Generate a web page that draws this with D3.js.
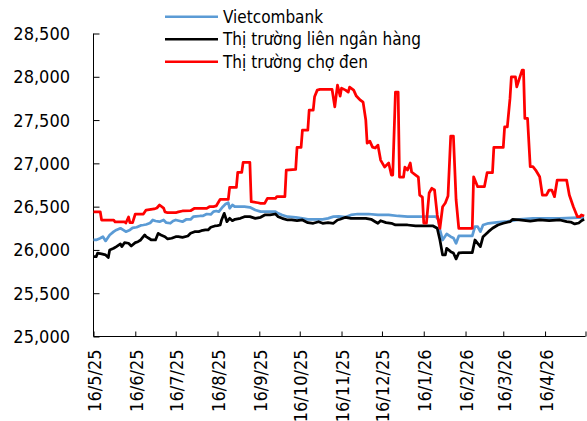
<!DOCTYPE html>
<html>
<head>
<meta charset="utf-8">
<script src="https://cdn.jsdelivr.net/npm/d3@7/dist/d3.min.js"></script>
<style>
  html, body { margin: 0; padding: 0; background: #fff; }
  svg { display: block; }
  text { font-family: "DejaVu Sans Condensed", "DejaVu Sans", sans-serif; font-stretch: condensed; fill: #000; }
</style>
</head>
<body>
<svg id="chart" width="587" height="421"></svg>
<script>
const seriesNames = ["Vietcombank", "Thị trường liên ngân hàng", "Thị trường chợ đen"];
const seriesColors = ["#5b9bd5", "#000000", "#ff0000"];

const vcbData = [
  ["2025-05-16",26115],["2025-05-18",26115],["2025-05-21",26135],["2025-05-23",26153],["2025-05-25",26104],
  ["2025-05-28",26173],["2025-05-31",26211],["2025-06-02",26231],["2025-06-05",26250],["2025-06-07",26231],
  ["2025-06-09",26211],["2025-06-12",26231],["2025-06-14",26254],["2025-06-17",26262],["2025-06-20",26283],
  ["2025-06-22",26288],["2025-06-24",26294],["2025-06-27",26311],["2025-06-29",26346],["2025-07-01",26334],
  ["2025-07-04",26326],["2025-07-07",26346],["2025-07-09",26315],["2025-07-12",26308],["2025-07-14",26334],
  ["2025-07-16",26346],["2025-07-19",26334],["2025-07-21",26326],["2025-07-24",26354],["2025-07-27",26352],
  ["2025-07-29",26384],["2025-07-31",26387],["2025-08-03",26392],["2025-08-05",26392],["2025-08-08",26415],
  ["2025-08-11",26410],["2025-08-13",26442],["2025-08-15",26450],["2025-08-17",26442],["2025-08-20",26499],
  ["2025-08-22",26530],["2025-08-24",26545],["2025-08-25",26481],["2025-08-27",26519],["2025-08-29",26499],
  ["2025-09-02",26499],["2025-09-05",26499],["2025-09-09",26492],["2025-09-13",26461],["2025-09-17",26442],
  ["2025-09-24",26442],["2025-09-28",26442],["2025-09-30",26423],["2025-10-03",26404],["2025-10-07",26384],
  ["2025-10-13",26377],["2025-10-18",26365],["2025-10-22",26354],["2025-10-27",26354],["2025-11-02",26354],
  ["2025-11-06",26365],["2025-11-10",26384],["2025-11-14",26387],["2025-11-19",26380],["2025-11-23",26404],
  ["2025-11-28",26415],["2025-12-06",26415],["2025-12-13",26404],["2025-12-21",26404],["2025-12-28",26392],
  ["2026-01-04",26384],["2026-01-12",26384],["2026-01-19",26384],["2026-01-25",26384],["2026-01-27",26346],
  ["2026-01-28",26231],["2026-01-30",26115],["2026-02-02",26184],["2026-02-05",26153],["2026-02-07",26138],
  ["2026-02-09",26077],["2026-02-11",26161],["2026-02-14",26161],["2026-02-21",26161],["2026-02-23",26269],
  ["2026-02-25",26269],["2026-02-27",26211],["2026-03-01",26288],["2026-03-05",26308],["2026-03-11",26318],
  ["2026-03-19",26330],["2026-03-23",26338],["2026-03-28",26354],["2026-04-07",26365],["2026-04-27",26365],
  ["2026-05-15",26375]
];

const interbankData = [
  ["2025-05-16",25922],["2025-05-18",25922],["2025-05-19",25962],["2025-05-22",25954],["2025-05-25",25942],
  ["2025-05-27",25913],["2025-05-28",26000],["2025-05-31",26019],["2025-06-02",26038],["2025-06-05",26069],
  ["2025-06-06",26038],["2025-06-08",26084],["2025-06-11",26077],["2025-06-13",26046],["2025-06-16",26084],
  ["2025-06-18",26095],["2025-06-20",26115],["2025-06-23",26173],["2025-06-24",26153],["2025-06-26",26135],
  ["2025-06-28",26115],["2025-07-01",26115],["2025-07-03",26192],["2025-07-05",26173],["2025-07-08",26153],
  ["2025-07-10",26127],["2025-07-13",26135],["2025-07-16",26153],["2025-07-18",26153],["2025-07-21",26146],
  ["2025-07-25",26161],["2025-07-27",26192],["2025-07-30",26211],["2025-08-02",26211],["2025-08-04",26222],
  ["2025-08-07",26231],["2025-08-09",26231],["2025-08-11",26262],["2025-08-14",26277],["2025-08-16",26280],
  ["2025-08-18",26288],["2025-08-19",26346],["2025-08-21",26423],["2025-08-23",26326],["2025-08-25",26365],
  ["2025-08-27",26338],["2025-08-29",26354],["2025-09-02",26365],["2025-09-05",26384],["2025-09-09",26384],
  ["2025-09-13",26365],["2025-09-17",26377],["2025-09-20",26404],["2025-09-24",26404],["2025-09-28",26415],
  ["2025-09-30",26384],["2025-10-03",26365],["2025-10-07",26346],["2025-10-10",26346],["2025-10-14",26338],
  ["2025-10-18",26346],["2025-10-22",26315],["2025-10-26",26308],["2025-10-30",26326],["2025-11-02",26308],
  ["2025-11-06",26315],["2025-11-10",26308],["2025-11-13",26346],["2025-11-15",26354],["2025-11-19",26377],
  ["2025-11-23",26365],["2025-11-28",26365],["2025-12-04",26365],["2025-12-08",26354],["2025-12-11",26326],
  ["2025-12-13",26308],["2025-12-15",26338],["2025-12-19",26315],["2025-12-23",26308],["2025-12-26",26288],
  ["2025-12-30",26288],["2026-01-04",26288],["2026-01-10",26277],["2026-01-14",26277],["2026-01-19",26277],
  ["2026-01-23",26277],["2026-01-26",26250],["2026-01-28",26115],["2026-01-30",25942],["2026-02-01",25942],
  ["2026-02-02",26019],["2026-02-05",25980],["2026-02-07",25965],["2026-02-09",25896],["2026-02-11",25965],
  ["2026-02-14",25969],["2026-02-21",25969],["2026-02-23",26115],["2026-02-25",26077],["2026-02-27",26038],
  ["2026-03-01",26153],["2026-03-05",26211],["2026-03-08",26250],["2026-03-12",26288],["2026-03-16",26308],
  ["2026-03-21",26326],["2026-03-23",26354],["2026-03-28",26346],["2026-04-05",26334],["2026-04-12",26346],
  ["2026-04-19",26338],["2026-04-27",26346],["2026-05-02",26326],["2026-05-05",26322],["2026-05-08",26300],
  ["2026-05-11",26311],["2026-05-13",26338],["2026-05-15",26354]
];

const blackMarketData = [
  ["2025-05-16",26440],["2025-05-21",26440],["2025-05-22",26345],["2025-05-31",26345],["2025-06-01",26325],
  ["2025-06-08",26325],["2025-06-09",26311],["2025-06-11",26380],["2025-06-12",26315],["2025-06-14",26315],
  ["2025-06-16",26415],["2025-06-22",26415],["2025-06-24",26461],["2025-06-30",26473],["2025-07-02",26484],
  ["2025-07-04",26519],["2025-07-07",26484],["2025-07-08",26440],["2025-07-10",26430],["2025-07-16",26430],
  ["2025-07-18",26440],["2025-07-21",26450],["2025-07-27",26453],["2025-07-30",26481],["2025-08-08",26480],
  ["2025-08-10",26499],["2025-08-13",26500],["2025-08-15",26508],["2025-08-18",26585],["2025-08-24",26585],
  ["2025-08-25",26723],["2025-08-30",26723],["2025-08-31",26896],["2025-09-03",26896],["2025-09-04",27012],
  ["2025-09-09",27012],["2025-09-10",26557],["2025-09-15",26545],["2025-09-17",26538],["2025-09-20",26538],
  ["2025-09-22",26596],["2025-09-28",26596],["2025-09-29",26615],["2025-10-05",26615],["2025-10-06",26923],
  ["2025-10-13",26931],["2025-10-14",27185],["2025-10-17",27185],["2025-10-18",27384],["2025-10-22",27384],
  ["2025-10-23",27615],["2025-10-26",27615],["2025-10-27",27769],["2025-10-29",27846],["2025-10-31",27854],
  ["2025-11-09",27854],["2025-11-11",27653],["2025-11-13",27904],["2025-11-15",27777],["2025-11-16",27869],
  ["2025-11-19",27846],["2025-11-21",27823],["2025-11-22",27880],["2025-11-25",27846],["2025-11-27",27777],
  ["2025-11-30",27730],["2025-12-02",27707],["2025-12-04",27500],["2025-12-05",27234],["2025-12-07",27257],
  ["2025-12-09",27188],["2025-12-11",27177],["2025-12-13",27211],["2025-12-15",27038],["2025-12-18",26957],
  ["2025-12-21",27004],["2025-12-23",26865],["2025-12-24",26865],["2025-12-26",27823],["2025-12-28",27823],
  ["2025-12-29",26842],["2026-01-01",26842],["2026-01-02",26957],["2026-01-04",26923],["2026-01-06",27004],
  ["2026-01-07",26900],["2026-01-10",26865],["2026-01-12",26842],["2026-01-13",26634],["2026-01-15",26611],
  ["2026-01-16",26311],["2026-01-18",26311],["2026-01-20",26657],["2026-01-22",26712],["2026-01-24",26692],
  ["2026-01-26",26404],["2026-01-28",26250],["2026-01-30",26499],["2026-02-01",26542],["2026-02-03",26623],
  ["2026-02-05",27315],["2026-02-07",27315],["2026-02-09",26577],["2026-02-11",26250],["2026-02-21",26250],
  ["2026-02-22",26845],["2026-02-25",26730],["2026-03-02",26730],["2026-03-04",26892],["2026-03-08",26892],
  ["2026-03-09",27185],["2026-03-16",27185],["2026-03-17",27422],["2026-03-19",27422],["2026-03-21",27750],
  ["2026-03-22",27999],["2026-03-25",28000],["2026-03-26",27884],["2026-03-28",27981],["2026-03-30",28077],
  ["2026-03-31",28077],["2026-04-01",27519],["2026-04-03",27519],["2026-04-05",26961],["2026-04-07",26961],
  ["2026-04-09",26923],["2026-04-12",26845],["2026-04-14",26634],["2026-04-17",26634],["2026-04-19",26692],
  ["2026-04-21",26692],["2026-04-23",26615],["2026-04-25",26807],["2026-05-02",26807],["2026-05-04",26634],
  ["2026-05-07",26499],["2026-05-10",26384],["2026-05-12",26384],["2026-05-13",26404],["2026-05-15",26392]
];

const yTicks = [25000, 25500, 26000, 26500, 27000, 27500, 28000, 28500];
const xTickDates = ["2025-05-16","2025-06-16","2025-07-16","2025-08-16","2025-09-16","2025-10-16",
  "2025-11-16","2025-12-16","2026-01-16","2026-02-16","2026-03-16","2026-04-16","2026-05-16"];
const xTickLabels = ["16/5/25","16/6/25","16/7/25","16/8/25","16/9/25","16/10/25",
  "16/11/25","16/12/25","16/1/26","16/2/26","16/3/26","16/4/26",""];

const parse = d3.utcParse("%Y-%m-%d");
const svg = d3.select("#chart");
const plotLeft = 93.5, plotRight = 585.5, plotTop = 33.5, plotBottom = 336.5;

const x = d3.scaleUtc().domain([parse(xTickDates[0]), parse(xTickDates[xTickDates.length - 1])]).range([plotLeft, plotRight]);
const y = d3.scaleLinear().domain([25000, 28500]).range([plotBottom, plotTop]);
const fmt = d3.format(",");

// Y axis
const yAxis = svg.append("g").attr("transform", `translate(${plotLeft},0)`)
  .call(d3.axisRight(y).tickValues(yTicks).tickSize(6).tickFormat(""));
yAxis.select(".domain").attr("d", `M0,${plotTop}V${plotBottom}`).attr("stroke", "#000");
yAxis.selectAll(".tick line").attr("stroke", "#000");
svg.append("g").selectAll("text").data(yTicks).join("text")
  .attr("x", 70).attr("y", d => y(d)).attr("dy", "0.36em")
  .attr("text-anchor", "end").attr("font-size", 18).text(d => fmt(d));

// X axis
const xAxis = svg.append("g").attr("transform", `translate(0,${plotBottom})`)
  .call(d3.axisTop(x).tickValues(xTickDates.map(parse)).tickSize(5).tickFormat(""));
xAxis.select(".domain").attr("d", `M${plotLeft},0H${plotRight}`).attr("stroke", "#000");
xAxis.selectAll(".tick line").attr("stroke", "#000");
svg.append("g").selectAll("text").data(xTickDates.map((d, i) => [parse(d), xTickLabels[i]])).join("text")
  .attr("transform", d => `translate(${x(d[0]) + 1},${plotBottom + 13}) rotate(-90)`)
  .attr("dy", "0.36em").attr("text-anchor", "end").attr("font-size", 18).text(d => d[1]);

// Lines
const line = d3.line().x(d => x(parse(d[0]))).y(d => y(d[1]));
const allSeries = [vcbData, interbankData, blackMarketData];
svg.append("g").selectAll("path").data(allSeries).join("path")
  .attr("d", line).attr("fill", "none")
  .attr("stroke", (d, i) => seriesColors[i]).attr("stroke-width", 2.75)
  .attr("stroke-linejoin", "round");

// Legend
const legend = svg.append("g");
const legendY = [16.7, 39.3, 61.7];
seriesNames.forEach((name, i) => {
  legend.append("line").attr("x1", 165).attr("x2", 218).attr("y1", legendY[i]).attr("y2", legendY[i])
    .attr("stroke", seriesColors[i]).attr("stroke-width", 2.5);
  legend.append("text").attr("x", 223).attr("y", legendY[i]).attr("dy", "0.36em")
    .attr("font-size", 17).text(name);
});
</script>
</body>
</html>
